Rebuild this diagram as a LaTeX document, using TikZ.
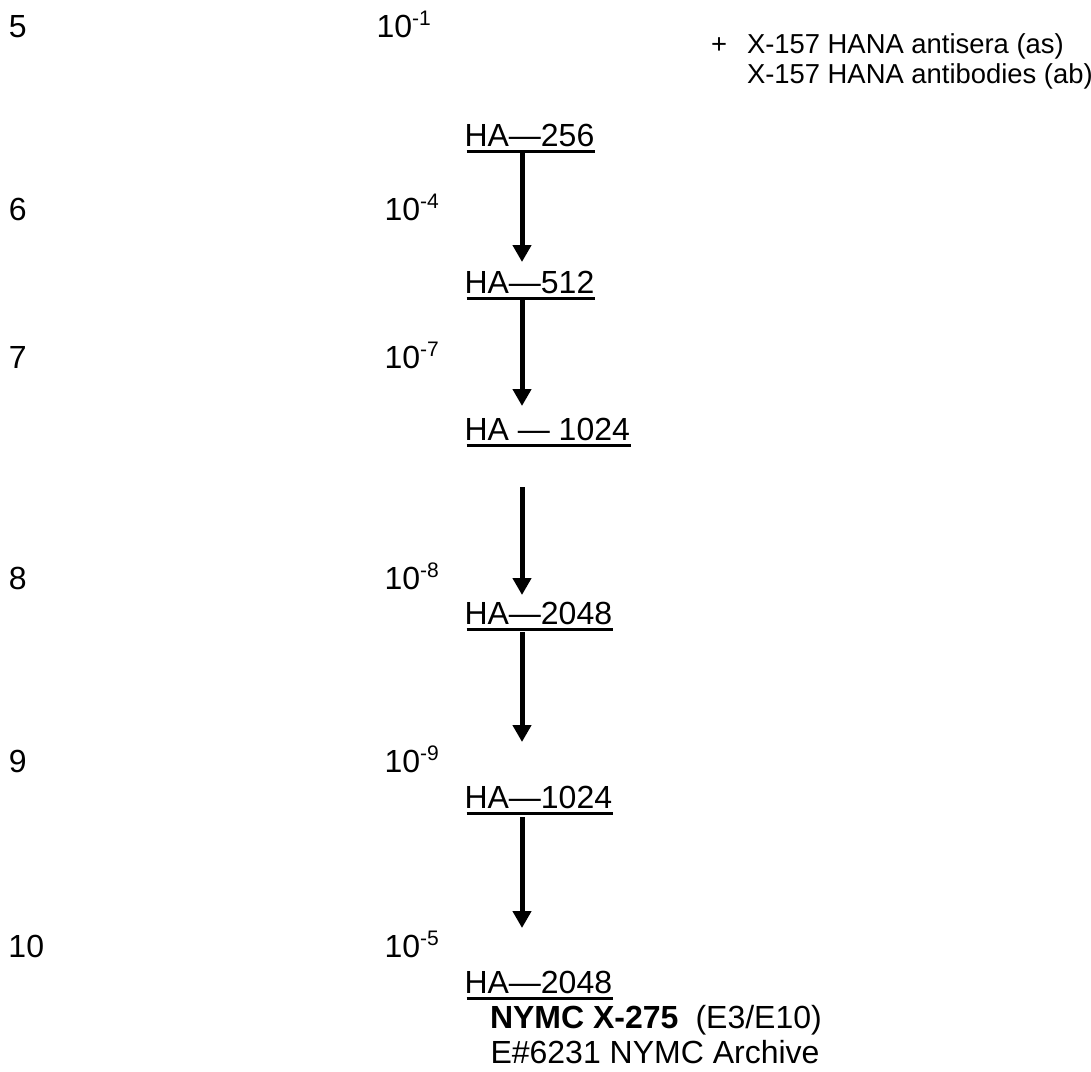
\documentclass[tikz,border=0pt]{standalone}
\usepackage{fontspec}
\setmainfont{Liberation Sans}
\usetikzlibrary{arrows.meta}
\newcommand{\supx}[1]{\raisebox{12pt}{\fontsize{21}{21}\selectfont #1}}
\tikzset{
  lbl/.style={anchor=base west, inner sep=0pt, outer sep=0pt, font=\fontsize{32}{38}\selectfont},
  lblsm/.style={anchor=base west, inner sep=0pt, outer sep=0pt, font=\fontsize{27.4}{33}\selectfont},
  uline/.style={line width=3pt},
  flow/.style={line width=5pt, -{Triangle[width=18pt,length=17pt]}}
}
\begin{document}
\begin{tikzpicture}[x=1pt,y=-1pt]
\useasboundingbox (0,0) rectangle (1091,1071);
% left column
\node[lbl] (n5) at (9,37) {5};
\node[lbl] (n6) at (9,220) {6};
\node[lbl] (n7) at (9,368) {7};
\node[lbl] (n8) at (9,589) {8};
\node[lbl] (n9) at (9,772) {9};
\node[lbl] (n10) at (8.5,957) {10};
% dilutions
\node[lbl] (d1) at (376.5,37) {10\supx{-1}};
\node[lbl] (d4) at (384.5,220) {10\supx{-4}};
\node[lbl] (d7) at (384.5,368) {10\supx{-7}};
\node[lbl] (d8) at (384.5,589) {10\supx{-8}};
\node[lbl] (d9) at (384.5,772) {10\supx{-9}};
\node[lbl] (d5) at (384.5,957) {10\supx{-5}};
% legend
\node[lblsm] (plus) at (711,53) {+};
\node[lblsm] (leg1) at (747,53) {X-157 HANA antisera (as)};
\node[lblsm] (leg2) at (747,83) {X-157 HANA antibodies (ab)};
% HA titres
\node[lbl] (h1) at (464.5,146) {HA—256};
\node[lbl] (h2) at (464.5,293) {HA—512};
\node[lbl] (h3) at (464.5,440) {HA — 1024};
\node[lbl] (h4) at (464.5,624) {HA—2048};
\node[lbl] (h5) at (464.5,808) {HA—1024};
\node[lbl] (h6) at (464.5,993) {HA—2048};
\foreach \n in {h1,h2,h3,h4,h5,h6}{
  \draw[uline] ([xshift=2pt,yshift=-5.5pt]\n.base west) -- ([xshift=1pt,yshift=-5.5pt]\n.base east);
}
% final strain
\node[lbl] (nymc) at (490,1028) {\textbf{NYMC X-275}\hspace{17pt}(E3/E10)};
\node[lbl] (arch) at (490.5,1063) {E\#6231 NYMC Archive};
% arrows
\coordinate (a1s) at (522,153);  \coordinate (a1e) at (522,262);
\coordinate (a2s) at (522,300);  \coordinate (a2e) at (522,406);
\coordinate (a3s) at (522,487);  \coordinate (a3e) at (522,595);
\coordinate (a4s) at (522,632);  \coordinate (a4e) at (522,742);
\coordinate (a5s) at (522,817);  \coordinate (a5e) at (522,928);
\draw[flow] (a1s) -- (a1e);
\draw[flow] (a2s) -- (a2e);
\draw[flow] (a3s) -- (a3e);
\draw[flow] (a4s) -- (a4e);
\draw[flow] (a5s) -- (a5e);
\end{tikzpicture}
\end{document}
